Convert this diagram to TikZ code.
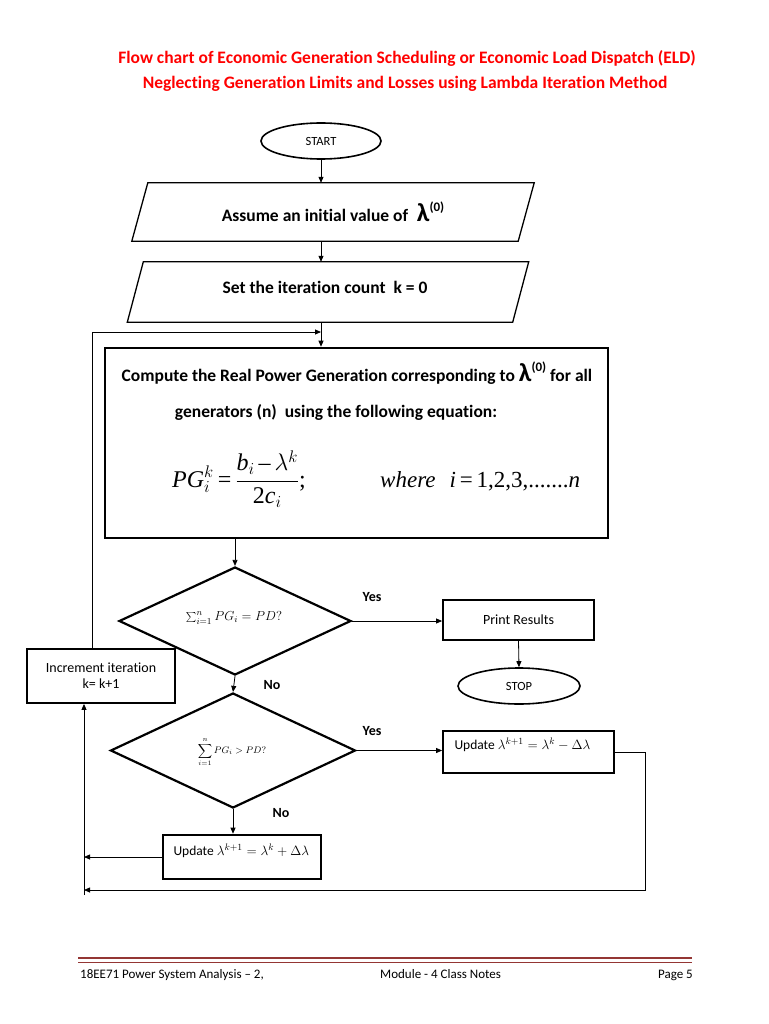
\RequirePackage{fix-cm}
\documentclass[tikz,border=0pt]{standalone}
\usepackage{fontspec}
\setmainfont{Carlito}[Ligatures=NoCommon]
\newfontfamily\tms{Liberation Serif}
\usetikzlibrary{shapes.geometric,arrows.meta,calc}
\definecolor{titlered}{RGB}{255,0,0}
\definecolor{footred}{RGB}{148,54,52}
\begin{document}
\begin{tikzpicture}[x=1pt,y=-1pt,
  arr/.style={-{Triangle[length=6pt,width=5pt]}, line width=0.8pt},
  oval/.style={ellipse, draw, line width=1.6pt, minimum width=120pt, minimum height=36pt, inner sep=0pt, font=\fontsize{12.5}{14}\selectfont},
  box/.style={rectangle, draw, line width=1.8pt, inner sep=0pt},
  dec/.style={diamond, draw, line width=2.2pt, inner sep=0pt},
  lbl/.style={font=\bfseries\fontsize{14}{16}\selectfont},
  txt/.style={font=\fontsize{14}{16}\selectfont},
  btxt/.style={font=\bfseries\fontsize{17.5}{20}\selectfont},
  ttl/.style={font=\bfseries\fontsize{17.5}{20}\selectfont, text=titlered},
]
\useasboundingbox[fill=white] (0,0) rectangle (768,1024);

% title
\node[ttl] (t1) at (407,58) {Flow chart of Economic Generation Scheduling or Economic Load Dispatch (ELD)};
\node[ttl] (t2) at (405,84) {Neglecting Generation Limits and Losses using Lambda Iteration Method};

% start
\node[oval] (start) at (321,141) {START};

% parallelogram 1
\node[minimum width=386pt, minimum height=58pt, inner sep=0pt, btxt] (p1) at (333,212)
  {Assume an initial value of \;{\fontsize{26}{26}\selectfont λ}\raisebox{1.2ex}{\fontsize{13}{13}\selectfont (0)}};
\draw[line width=1.3pt] ([xshift=8pt]p1.north west) -- ([xshift=8pt]p1.north east) -- ([xshift=-8pt]p1.south east) -- ([xshift=-8pt]p1.south west) -- cycle;

% parallelogram 2
\node[minimum width=385pt, minimum height=60pt, inner sep=0pt] (p2) at (328,292) {};
\draw[line width=1.3pt] ([xshift=8pt]p2.north west) -- ([xshift=8pt]p2.north east) -- ([xshift=-8pt]p2.south east) -- ([xshift=-8pt]p2.south west) -- cycle;
\node[btxt] (p2t) at (325,287) {Set the iteration count \ k = 0};

% big box
\node[box, line width=2.6pt, minimum width=503pt, minimum height=190pt] (big) at (356.5,443) {};
\node[btxt] (bt1) at (357,373) {Compute the Real Power Generation corresponding to {\fontsize{26}{26}\selectfont λ}\raisebox{1.2ex}{\fontsize{13}{13}\selectfont (0)} for all};
\node[btxt] (bt2) at (336,412) {generators (n) \ using the following equation:};
\node[font=\fontsize{24}{27}\selectfont, anchor=base west, inner sep=0pt] (eq1) at (172,487)
  {$\hbox{\tms\itshape PG}_i^k \hbox{\tms\,=\,} \displaystyle\frac{\hbox{\tms\itshape b}_i \hbox{\tms\,–\,} \lambda^k}{\hbox{\tms 2\itshape c}_i}\hbox{\tms ;}$};
\node[font=\fontsize{23}{26}\selectfont\tms, anchor=base west, inner sep=0pt] (eq2) at (380,487) {\textit{where}\hspace{14pt}\textit{i}\,=\,1,2,3,.......\textit{n}};

% decision 1
\node[dec, minimum width=232pt, minimum height=108pt] (d1) at (235,621) {};
\node[font=\fontsize{13}{15}\selectfont] (d1t) at (234,618) {$\sum_{i=1}^{n} PG_i = PD?$};

% print / stop
\node[box, minimum width=151pt, minimum height=40pt, txt] (pr) at (518.5,620) {Print Results};
\node[oval, minimum width=122pt] (stop) at (519,686) {STOP};

% increment
\node[box, minimum width=148pt, minimum height=54pt, align=center, txt] (incr) at (101,676) {Increment iteration\\k= k+1};

% decision 2
\node[dec, minimum width=245pt, minimum height=115pt] (d2) at (233,750.5) {};
\node[font=\fontsize{9.5}{10}\selectfont] (d2t) at (232,752) {$\displaystyle\sum_{i=1}^{n} PG_i > PD?$};

% update boxes
\node[box, minimum width=171pt, minimum height=42pt] (um) at (528.5,752) {};
\node[font=\fontsize{13.5}{15}\selectfont, anchor=west] (umt) at (451,745) {Update $\lambda^{k+1} = \lambda^k - \Delta\lambda$};
\node[box, line width=2.6pt, minimum width=158pt, minimum height=44pt] (up) at (242,857) {};
\node[font=\fontsize{13.5}{15}\selectfont, anchor=west] (upt) at (170,851) {Update $\lambda^{k+1} = \lambda^k + \Delta\lambda$};

% labels
\node[lbl] (y1) at (372,597) {Yes};
\node[lbl] (n1) at (272,685) {No};
\node[lbl] (y2) at (372,731) {Yes};
\node[lbl] (n2) at (281,813) {No};

% connectors
\draw[arr] (start.south) -- (start.south |- p1.north);
\draw[arr] (start.south |- p1.south) -- (start.south |- p2.north);
\draw[arr] (start.south |- p2.south) -- (start.south |- big.north);
\coordinate (loopTop) at (92,332);
\draw[arr] (loopTop |- incr.north) -- (loopTop) -- (loopTop -| start.south);
\draw[arr] (d1.north |- big.south) -- (d1.north);
\draw[arr] (d1.east) -- (d1.east -| pr.west);
\draw[arr] (pr.south) -- (stop.north);
\draw[arr] (d1.south) -- (d2.north);
\draw[arr] (d2.east) -- (d2.east -| um.west);
\draw[arr] (d2.south) -- (d2.south |- up.north);
\coordinate (cR) at (645,890);
\coordinate (cL) at (84,890);
\coordinate (cLb) at (84,895);
\draw[arr] (um.east) -| (cR) -- (cL);
\draw[arr] (cLb) -- (cLb |- incr.south);
\draw[arr] (up.west) -- (up.west -| cL);

% footer
\draw[line width=2.5pt, footred] (78,958) -- (692,958);
\draw[line width=0.8pt, footred] (78,962.5) -- (692,962.5);
\node[font=\fontsize{13}{15}\selectfont, anchor=base west, inner sep=0pt] (f1) at (80,978) {18EE71 Power System Analysis – 2,};
\node[font=\fontsize{13}{15}\selectfont, anchor=base west, inner sep=0pt] (f2) at (380,978) {Module - 4 Class Notes};
\node[font=\fontsize{13}{15}\selectfont, anchor=base east, inner sep=0pt] (f3) at (693,978) {Page 5};
\end{tikzpicture}
\end{document}
